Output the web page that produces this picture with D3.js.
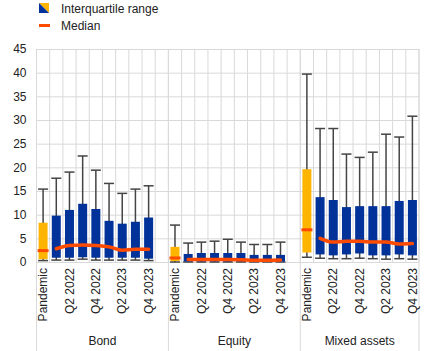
<!DOCTYPE html>
<html>
<head>
<meta charset="utf-8">
<script src="https://cdn.jsdelivr.net/npm/d3@7"></script>
<style>
  body { margin: 0; background: #fff; }
  svg text { font-family: "Liberation Sans", Arial, sans-serif; fill: #222; }
</style>
</head>
<body>
<div id="chart"></div>
<script>
// data
const groups = ["Bond", "Equity", "Mixed assets"];
const periods = ["Pandemic", "Q1 2022", "Q2 2022", "Q3 2022", "Q4 2022", "Q1 2023", "Q2 2023", "Q3 2023", "Q4 2023"];
const shownTicks = ["Pandemic", "Q2 2022", "Q4 2022", "Q2 2023", "Q4 2023"];
const yTicks = [0, 5, 10, 15, 20, 25, 30, 35, 40, 45];

const bondHigh = [15.4, 17.7, 19.0, 22.4, 19.4, 16.6, 14.5, 15.4, 16.1];
const bondQ3   = [8.3, 9.8, 11.0, 12.3, 11.2, 8.7, 8.1, 8.5, 9.4];
const bondQ1   = [0.6, 0.9, 0.9, 1.0, 0.9, 0.9, 0.9, 0.9, 0.7];
const bondLow  = [0.3, 0.4, 0.4, 0.6, 0.4, 0.4, 0.4, 0.4, 0.3];
const bondMed  = [2.4, 2.8, 3.5, 3.6, 3.5, 3.2, 2.5, 2.7, 2.7];

const equityHigh = [7.8, 4.0, 4.2, 4.4, 4.8, 4.2, 3.7, 3.7, 4.2];
const equityQ3   = [3.2, 1.7, 1.9, 1.9, 1.9, 1.9, 1.5, 1.5, 1.5];
const equityQ1   = [0.2, 0.1, 0.1, 0.1, 0.1, 0.1, 0.1, 0.1, 0.1];
const equityLow  = [0.0, 0.0, 0.0, 0.0, 0.0, 0.0, 0.0, 0.0, 0.0];
const equityMed  = [0.85, 0.55, 0.55, 0.55, 0.55, 0.5, 0.35, 0.35, 0.4];

const mixedHigh = [39.7, 28.2, 28.2, 22.8, 22.1, 23.2, 27.0, 26.4, 30.8];
const mixedQ3   = [19.6, 13.7, 13.1, 11.6, 11.8, 11.8, 11.8, 12.9, 13.1];
const mixedQ1   = [2.0, 1.6, 1.4, 1.6, 1.8, 1.4, 1.4, 1.6, 1.4];
const mixedLow  = [1.0, 0.8, 0.7, 0.7, 0.8, 0.7, 0.6, 0.7, 0.6];
const mixedMed  = [6.8, 5.0, 4.2, 4.4, 4.4, 4.2, 4.2, 3.8, 3.9];

const series = [
  { high: bondHigh, q3: bondQ3, q1: bondQ1, low: bondLow, med: bondMed },
  { high: equityHigh, q3: equityQ3, q1: equityQ1, low: equityLow, med: equityMed },
  { high: mixedHigh, q3: mixedQ3, q1: mixedQ1, low: mixedLow, med: mixedMed }
];

const W = 439, H = 351;
const plotLeft = 36.5, plotRight = 419, plotTop = 49, plotBottom = 262;
const blue = "#003299", yellow = "#ffb400", orange = "#ff4b00", grid = "#d9d9d9", whisk = "#444";

// one slot per period, with an empty spacer slot after each group but the last
const slots = [];
groups.forEach((g, gi) => {
  periods.forEach(p => slots.push(g + "|" + p));
  if (gi < groups.length - 1) slots.push(g + "|gap");
});

const rows = [];
groups.forEach((g, gi) => {
  periods.forEach((p, pi) => {
    const s = series[gi];
    rows.push({ group: g, period: p, key: g + "|" + p, high: s.high[pi], q3: s.q3[pi], q1: s.q1[pi], low: s.low[pi], med: s.med[pi] });
  });
});

const svg = d3.select("#chart").append("svg").attr("width", W).attr("height", H);

const x = d3.scaleBand().domain(slots).range([plotLeft, plotRight]).padding(0);
const y = d3.scaleLinear().domain([0, 45]).range([plotBottom, plotTop]);

// horizontal grid + y labels
svg.append("g")
  .attr("transform", `translate(${plotLeft},0)`)
  .call(d3.axisLeft(y).tickValues(yTicks).tickSize(-(plotRight - plotLeft)).tickPadding(10))
  .call(g => g.select(".domain").remove())
  .call(g => g.selectAll("line").attr("stroke", grid))
  .call(g => g.selectAll("text").style("font-size", "12px").attr("fill", "#222"));

// vertical grid, one line per slot boundary
const bounds = slots.map(s => x(s)).concat([plotRight]);
svg.append("g").selectAll("line")
  .data(bounds)
  .enter()
  .append("line")
  .attr("x1", d => d).attr("x2", d => d)
  .attr("y1", plotTop).attr("y2", plotBottom)
  .attr("stroke", grid);

// group dividers run down through the labels
const dividers = groups.map(g => x(g + "|Pandemic")).concat([plotRight]);
svg.append("g").selectAll("line")
  .data(dividers)
  .enter()
  .append("line")
  .attr("x1", d => d).attr("x2", d => d)
  .attr("y1", plotTop).attr("y2", H)
  .attr("stroke", grid);

const cx = d => x(d.key) + x.bandwidth() / 2;
const barW = 9, capW = 10;

// whiskers
const wg = svg.append("g").attr("stroke", whisk).attr("stroke-width", 1.5);
wg.selectAll(".stem").data(rows).enter().append("line")
  .attr("x1", cx).attr("x2", cx)
  .attr("y1", d => y(d.high)).attr("y2", d => y(d.low));
wg.selectAll(".capTop").data(rows).enter().append("line")
  .attr("x1", d => cx(d) - capW / 2).attr("x2", d => cx(d) + capW / 2)
  .attr("y1", d => y(d.high)).attr("y2", d => y(d.high));
wg.selectAll(".capBot").data(rows).enter().append("line")
  .attr("x1", d => cx(d) - capW / 2).attr("x2", d => cx(d) + capW / 2)
  .attr("y1", d => y(d.low)).attr("y2", d => y(d.low));

// interquartile bars
svg.append("g").selectAll("rect")
  .data(rows)
  .enter()
  .append("rect")
  .attr("x", d => cx(d) - barW / 2)
  .attr("width", barW)
  .attr("y", d => y(d.q3))
  .attr("height", d => y(d.q1) - y(d.q3))
  .attr("fill", d => d.period === "Pandemic" ? yellow : blue);

// pandemic median tick
svg.append("g").selectAll("line")
  .data(rows.filter(d => d.period === "Pandemic"))
  .enter()
  .append("line")
  .attr("x1", d => cx(d) - 5.5).attr("x2", d => cx(d) + 5.5)
  .attr("y1", d => y(d.med)).attr("y2", d => y(d.med))
  .attr("stroke", orange).attr("stroke-width", 3);

// median line across the quarters
const medLine = d3.line()
  .x(cx)
  .y(d => y(d.med))
  .curve(d3.curveMonotoneX);

groups.forEach(g => {
  const pts = rows.filter(d => d.group === g && d.period !== "Pandemic");
  svg.append("path")
    .attr("d", medLine(pts))
    .attr("fill", "none")
    .attr("stroke", orange)
    .attr("stroke-width", 3.5)
    .attr("stroke-linecap", "round");
});

// x tick labels, rotated
svg.append("g").selectAll("text")
  .data(rows.filter(d => shownTicks.includes(d.period)))
  .enter()
  .append("text")
  .attr("transform", d => `translate(${cx(d)},268) rotate(-90)`)
  .attr("dy", "0.35em")
  .attr("text-anchor", "end")
  .style("font-size", "12px")
  .text(d => d.period);

// group labels
svg.append("g").selectAll("text")
  .data(groups)
  .enter()
  .append("text")
  .attr("x", (g, i) => (dividers[i] + dividers[i + 1]) / 2)
  .attr("y", 345)
  .attr("text-anchor", "middle")
  .style("font-size", "12px")
  .text(d => d);

// legend
const lg = svg.append("g");
lg.append("polygon").attr("points", "39,3 49,3 49,13").attr("fill", yellow);
lg.append("polygon").attr("points", "39,3 49,13 39,13").attr("fill", blue);
lg.append("text").attr("x", 61).attr("y", 13).style("font-size", "12px").text("Interquartile range");
lg.append("line").attr("x1", 39).attr("x2", 50).attr("y1", 25.5).attr("y2", 25.5)
  .attr("stroke", orange).attr("stroke-width", 3);
lg.append("text").attr("x", 61).attr("y", 30).style("font-size", "12px").text("Median");
</script>
</body>
</html>
